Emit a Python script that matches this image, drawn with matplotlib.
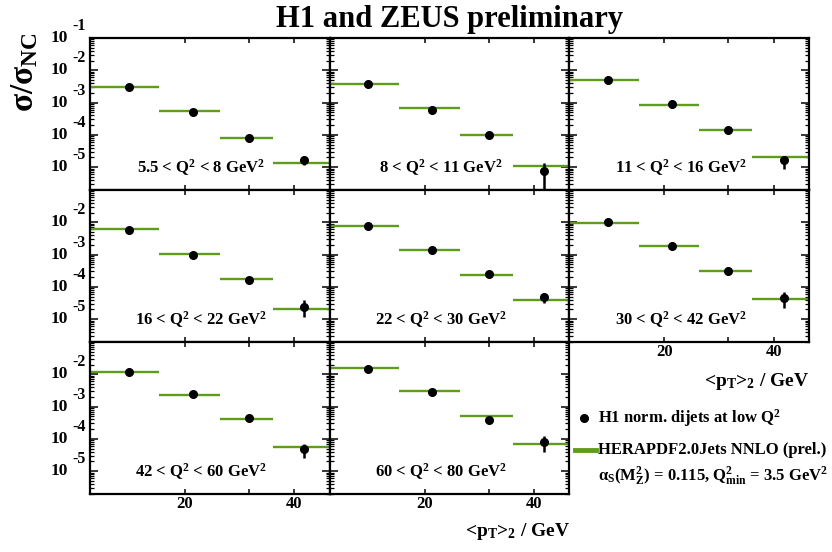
import numpy as np
import matplotlib
matplotlib.use("Agg")
import matplotlib.pyplot as plt
from matplotlib.ticker import LogLocator, NullLocator, FixedLocator, FixedFormatter
from matplotlib.transforms import blended_transform_factory, offset_copy
from matplotlib.lines import Line2D

plt.rcParams['font.family'] = ['Liberation Serif', 'DejaVu Serif']
plt.rcParams['font.weight'] = 'bold'
plt.rcParams['mathtext.default'] = 'regular'

# ---------------- data ----------------
q2_labels = ['5.5 < Q$^2$ < 8 GeV$^2$', '8 < Q$^2$ < 11 GeV$^2$', '11 < Q$^2$ < 16 GeV$^2$',
             '16 < Q$^2$ < 22 GeV$^2$', '22 < Q$^2$ < 30 GeV$^2$', '30 < Q$^2$ < 42 GeV$^2$',
             '42 < Q$^2$ < 60 GeV$^2$', '60 < Q$^2$ < 80 GeV$^2$']
pt_centers = [14.0, 21.0, 30.0, 42.7]
pt_edges = [11, 17, 25, 35, 50]

h1_vals = [
    [3.09e-3, 5.07e-4, 8.3e-5, 1.62e-5],
    [3.83e-3, 6.0e-4, 1.02e-4, 7.4e-6],
    [4.9e-3, 8.9e-4, 1.41e-4, 1.62e-5],
    [5.75e-3, 1.0e-3, 1.62e-4, 2.45e-5],
    [7.6e-3, 1.38e-3, 2.45e-4, 4.7e-5],
    [1.0e-2, 1.82e-3, 3.0e-4, 4.5e-5],
    [1.17e-2, 2.45e-3, 4.4e-4, 5.0e-5],
    [1.51e-2, 2.8e-3, 3.8e-4, 8.1e-5],
]
h1_err_lo = [
    [1.0e-4, 2.0e-5, 4.0e-6, 4.2e-6],
    [1.2e-4, 2.4e-5, 5.0e-6, 7.3e-6],
    [1.5e-4, 3.0e-5, 7.0e-6, 7.1e-6],
    [1.8e-4, 4.0e-5, 8.0e-6, 1.28e-5],
    [2.4e-4, 5.0e-5, 1.2e-5, 1.6e-5],
    [3.0e-4, 7.0e-5, 1.5e-5, 2.26e-5],
    [3.5e-4, 9.0e-5, 2.2e-5, 2.4e-5],
    [4.5e-4, 1.1e-4, 5.5e-5, 4.3e-5],
]
h1_err_hi = [
    [1.0e-4, 2.0e-5, 4.0e-6, 5.7e-6],
    [1.2e-4, 2.4e-5, 5.0e-6, 6.2e-6],
    [1.5e-4, 3.0e-5, 7.0e-6, 4.7e-6],
    [1.8e-4, 4.0e-5, 8.0e-6, 1.45e-5],
    [2.4e-4, 5.0e-5, 1.2e-5, 1.6e-5],
    [3.0e-4, 7.0e-5, 1.5e-5, 2.3e-5],
    [3.5e-4, 9.0e-5, 2.2e-5, 2.2e-5],
    [4.5e-4, 1.1e-4, 5.5e-5, 4.3e-5],
]
herapdf_vals = [
    [3.1e-3, 5.4e-4, 8.1e-5, 1.32e-5],
    [3.83e-3, 6.7e-4, 1.02e-4, 1.12e-5],
    [4.9e-3, 8.5e-4, 1.38e-4, 2.14e-5],
    [6.0e-3, 1.05e-3, 1.74e-4, 2.04e-5],
    [7.8e-3, 1.38e-3, 2.4e-4, 4.0e-5],
    [9.8e-3, 1.82e-3, 3.1e-4, 4.2e-5],
    [1.2e-2, 2.34e-3, 4.0e-4, 5.5e-5],
    [1.55e-2, 3.1e-3, 5.0e-4, 6.8e-5],
]
y_exponents_top = ['-1', '-2', '-3', '-4', '-5']
y_exponents_other = ['-2', '-3', '-4', '-5']
x_tick_vals = [20, 30, 40]
x_tick_labels = ['20', '', '40']

GREEN = '#5f9c1c'
W, H = 832, 552
fig = plt.figure(figsize=(W / 100, H / 100), dpi=100)

left, right = 90 / W, 809 / W
top, bottom = 1 - 38 / H, 1 - 494 / H
pw = (right - left) / 3
ph = (top - bottom) / 3

ylim = (1.97e-6, 0.1)
xlim = (10.95, 50.1)

axes = []
for i in range(8):
    r, c = divmod(i, 3)
    ax = fig.add_axes([left + c * pw, top - (r + 1) * ph, pw, ph])
    axes.append(ax)
    ax.set_xscale('log')
    ax.set_yscale('log')
    ax.set_xlim(*xlim)
    ax.set_ylim(*ylim)
    # theory
    ax.hlines(herapdf_vals[i], pt_edges[:-1], pt_edges[1:], colors=GREEN, lw=1.7, zorder=2)
    # data
    vals = np.array(h1_vals[i])
    ax.errorbar(pt_centers, vals, yerr=[h1_err_lo[i], h1_err_hi[i]], fmt='o', color='k',
                ms=5.5, elinewidth=1.8, capsize=0, zorder=3)
    ax.text(0.465, 0.15, q2_labels[i], transform=ax.transAxes, ha='center', va='center',
            fontsize=12, fontweight='bold')
    ax.xaxis.set_major_locator(FixedLocator(x_tick_vals))
    ax.xaxis.set_major_formatter(FixedFormatter(x_tick_labels))
    ax.xaxis.set_minor_locator(NullLocator())
    ax.yaxis.set_major_locator(LogLocator(base=10, numticks=20))
    ax.yaxis.set_minor_locator(LogLocator(base=10, subs=(2, 3, 4, 5, 6, 7, 8, 9), numticks=20))
    ax.tick_params(which='both', direction='in', top=True, right=True, labelleft=False)
    ax.tick_params(axis='y', which='major', length=5.5, width=1.1)
    ax.tick_params(axis='y', which='minor', length=2.8, width=0.9)
    ax.tick_params(axis='x', which='major', length=3.5, width=1.1, pad=1.5, labelsize=12)
    for s in ax.spines.values():
        s.set_linewidth(1.6)
    show_x = (r == 2) or (i == 5)
    ax.tick_params(axis='x', labelbottom=show_x)
    for lab in ax.get_xticklabels():
        lab.set_fontweight('bold')
    if c == 0:
        exps = y_exponents_top if r == 0 else y_exponents_other
        trans = blended_transform_factory(ax.transAxes, ax.transData)
        for e in exps:
            yv = 10.0 ** int(e)
            t1 = offset_copy(trans, fig=fig, x=-22, y=0, units='dots')
            ax.text(0, yv, '10', transform=t1, ha='right', va='center', fontsize=12.5,
                    fontweight='bold', clip_on=False)
            t2 = offset_copy(trans, fig=fig, x=-18, y=12, units='dots')
            ax.text(0, yv, e, transform=t2, ha='left', va='center', fontsize=11.5,
                    fontweight='bold', clip_on=False)

# title
fig.text(449 / W, 1 - 26.7 / H, 'H1 and ZEUS preliminary', ha='center', va='baseline',
         fontsize=22, fontweight='bold')
# y label
fig.text(25 / W, 1 - 32 / H, 'σ/σ$_{NC}$', rotation=90, ha='center', va='top',
         fontsize=24, fontweight='bold')
# x labels
fig.text(570 / W, 1 - 531 / H, '<p$_T$>$_2$ / GeV', ha='right', va='center',
         fontsize=14, fontweight='bold')
fig.text(809 / W, 1 - 381 / H, '<p$_T$>$_2$ / GeV', ha='right', va='center',
         fontsize=14, fontweight='bold')

# legend
fig.add_artist(Line2D([584 / W], [1 - 418 / H], marker='o', color='k', ms=5.5, ls='none'))
fig.text(598 / W, 1 - 418 / H, 'H1 norm. dijets at low Q$^2$', ha='left', va='center',
         fontsize=12, fontweight='bold')
fig.add_artist(Line2D([575 / W, 596 / W], [1 - 450 / H, 1 - 450 / H], color=GREEN, lw=3.5))
fig.text(598 / W, 1 - 450 / H, 'HERAPDF2.0Jets NNLO (prel.)', ha='left', va='center',
         fontsize=12, fontweight='bold')
fig.text(598 / W, 1 - 476 / H, 'α$_S$(M$_Z^2$) = 0.115, Q$^2_{min}$ = 3.5 GeV$^2$',
         ha='left', va='center', fontsize=12, fontweight='bold')

fig.savefig('out.png', dpi=100)
